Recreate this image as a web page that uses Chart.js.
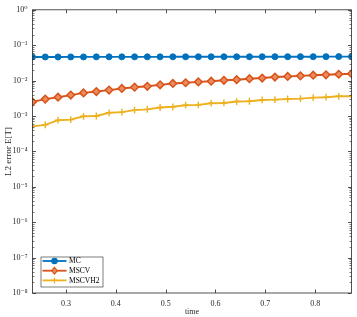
<!DOCTYPE html>
<html>
<head>
<meta charset="utf-8">
<script src="https://cdn.jsdelivr.net/npm/chart.js@4/dist/chart.umd.min.js"></script>
<style>
html,body{margin:0;padding:0;background:#fff;}
canvas{display:block;}
</style>
</head>
<body>
<canvas id="c" width="357" height="317"></canvas>
<script>
const timeValues = [0.2327, 0.2583, 0.2839, 0.3095, 0.3351, 0.3608, 0.3864, 0.4120, 0.4376, 0.4632, 0.4888, 0.5144, 0.5400, 0.5656, 0.5913, 0.6169, 0.6425, 0.6681, 0.6937, 0.7193, 0.7449, 0.7705, 0.7961, 0.8218, 0.8474, 0.8730];
const mcError = [0.0465, 0.0466, 0.0466, 0.0467, 0.0467, 0.0468, 0.0468, 0.0468, 0.0469, 0.0469, 0.0469, 0.0470, 0.0470, 0.0470, 0.0471, 0.0471, 0.0471, 0.0472, 0.0472, 0.0473, 0.0473, 0.0474, 0.0474, 0.0475, 0.0476, 0.0477];
const mscvError = [0.0025, 0.0030, 0.0034, 0.0039, 0.0045, 0.0049, 0.0054, 0.0060, 0.0065, 0.0069, 0.0076, 0.0083, 0.0087, 0.0092, 0.0096, 0.0102, 0.0106, 0.0113, 0.0118, 0.0126, 0.0131, 0.0136, 0.0142, 0.0146, 0.0151, 0.0156];
const mscvh2Error = [0.00051, 0.00056, 0.00076, 0.00079, 0.00098, 0.00100, 0.00123, 0.00129, 0.00147, 0.00154, 0.00174, 0.00182, 0.00202, 0.00206, 0.00230, 0.00234, 0.00256, 0.00261, 0.00284, 0.00290, 0.00302, 0.00310, 0.00330, 0.00340, 0.00360, 0.00360];
const seriesNames = ['MC', 'MSCV', 'MSCVH2'];
const xTickValues = [0.3, 0.4, 0.5, 0.6, 0.7, 0.8];
const yTickValues = [1e-8, 1e-7, 1e-6, 1e-5, 1e-4, 1e-3, 1e-2, 1e-1, 1];
const yTickLabels = ['10⁻⁸', '10⁻⁷', '10⁻⁶', '10⁻⁵', '10⁻⁴', '10⁻³', '10⁻²', '10⁻¹', '10⁰'];
const xTitle = 'time';
const yTitle = 'L2 error E[T]';

const FONT = '"Liberation Serif", "DejaVu Serif", serif';
const AXIS = '#262626';
const colors = ['#0072BD', '#D95319', '#EDB120'];

function pts(ys) { return timeValues.map((t, i) => ({x: t, y: ys[i]})); }

const boxPlugin = {
  id: 'boxPlugin',
  afterDatasetsDraw(chart) {
    const ctx = chart.ctx, a = chart.chartArea;
    const xs = chart.scales.x, ys = chart.scales.y;
    ctx.save();
    ctx.strokeStyle = AXIS;
    ctx.lineWidth = 0.8;
    ctx.strokeRect(a.left, a.top, a.right - a.left, a.bottom - a.top);
    ctx.beginPath();
    xTickValues.forEach(v => {
      const p = Math.round(xs.getPixelForValue(v)) + 0.5;
      ctx.moveTo(p, a.bottom); ctx.lineTo(p, a.bottom - 3.5);
      ctx.moveTo(p, a.top); ctx.lineTo(p, a.top + 3.5);
    });
    yTickValues.forEach(v => {
      const p = Math.round(ys.getPixelForValue(v)) + 0.5;
      ctx.moveTo(a.left, p); ctx.lineTo(a.left + 3.5, p);
      ctx.moveTo(a.right, p); ctx.lineTo(a.right - 3.5, p);
    });
    ctx.stroke();
    ctx.beginPath();
    ctx.lineWidth = 0.6;
    for (let i = 0; i < yTickValues.length - 1; i++) {
      for (let m = 2; m <= 9; m++) {
        const p = Math.round(ys.getPixelForValue(yTickValues[i] * m)) + 0.5;
        ctx.moveTo(a.left, p); ctx.lineTo(a.left + 2, p);
        ctx.moveTo(a.right, p); ctx.lineTo(a.right - 2, p);
      }
    }
    ctx.stroke();

    // legend
    const bx = a.left + 8, by = a.bottom - 36.5, bw = 62, bh = 30;
    ctx.fillStyle = '#fff';
    ctx.fillRect(bx, by, bw, bh);
    ctx.lineWidth = 0.6;
    ctx.strokeStyle = AXIS;
    ctx.strokeRect(bx + 0.5, by + 0.5, bw, bh);
    chart.data.datasets.forEach((ds, i) => {
      const y = by + 4.5 + i * 9.7;
      ctx.strokeStyle = ds.borderColor;
      ctx.lineWidth = 1.8;
      ctx.beginPath(); ctx.moveTo(bx + 2, y); ctx.lineTo(bx + 26, y); ctx.stroke();
      const cx = bx + 14;
      ctx.fillStyle = ds.pointBackgroundColor;
      ctx.strokeStyle = ds.borderColor;
      ctx.lineWidth = 1.2;
      if (i === 0) { ctx.beginPath(); ctx.arc(cx, y, 2.7, 0, Math.PI * 2); ctx.fill(); ctx.stroke(); }
      else if (i === 1) { ctx.beginPath(); ctx.moveTo(cx, y - 3.4); ctx.lineTo(cx + 2.8, y); ctx.lineTo(cx, y + 3.4); ctx.lineTo(cx - 2.8, y); ctx.closePath(); ctx.fill(); ctx.stroke(); }
      else { ctx.beginPath(); ctx.moveTo(cx - 3, y); ctx.lineTo(cx + 3, y); ctx.moveTo(cx, y - 3); ctx.lineTo(cx, y + 3); ctx.stroke(); }
      ctx.fillStyle = '#000';
      ctx.font = '7.5px ' + FONT;
      ctx.textBaseline = 'middle';
      ctx.textAlign = 'left';
      ctx.fillText(ds.label, bx + 28.5, y + 0.5);
    });
    ctx.restore();
  }
};

new Chart(document.getElementById('c'), {
  type: 'line',
  data: {
    datasets: [
      {label: seriesNames[0], data: pts(mcError), borderColor: colors[0], pointBackgroundColor: colors[0], pointBorderColor: colors[0], pointStyle: 'circle', pointRadius: 3, borderWidth: 1.9, pointBorderWidth: 1},
      {label: seriesNames[1], data: pts(mscvError), borderColor: colors[1], pointBackgroundColor: 'rgba(235,140,95,1)', pointBorderColor: colors[1], pointStyle: 'rectRot', pointRadius: 3.8, borderWidth: 1.9, pointBorderWidth: 1.5},
      {label: seriesNames[2], data: pts(mscvh2Error), borderColor: colors[2], pointBackgroundColor: colors[2], pointBorderColor: colors[2], pointStyle: 'cross', pointRadius: 3.4, borderWidth: 1.9, pointBorderWidth: 1.4}
    ]
  },
  options: {
    responsive: false,
    animation: false,
    devicePixelRatio: 1,
    layout: {padding: {left: 0, right: 5, top: 5, bottom: 0}},
    plugins: {legend: {display: false}, tooltip: {enabled: false}},
    scales: {
      x: {
        type: 'linear',
        min: timeValues[0],
        max: timeValues[timeValues.length - 1],
        afterBuildTicks(s) { s.ticks = xTickValues.map(v => ({value: v})); },
        afterFit(s) { s.height = 24; },
        grid: {display: false, drawTicks: false},
        border: {display: false},
        ticks: {color: '#262626', font: {family: FONT, size: 8}, padding: 6, maxRotation: 0, autoSkip: false, callback: v => v.toFixed(1)},
        title: {display: true, text: xTitle, color: '#262626', font: {family: FONT, size: 8}, padding: {top: 0, bottom: 0}}
      },
      y: {
        type: 'logarithmic',
        min: 1e-8,
        max: 1,
        afterBuildTicks(s) { s.ticks = yTickValues.map(v => ({value: v})); },
        afterFit(s) { s.width = 32.5; },
        grid: {display: false, drawTicks: false},
        border: {display: false},
        ticks: {color: '#262626', font: {family: FONT, size: 8}, padding: 5, autoSkip: false,
          callback: (v) => { const i = yTickValues.findIndex(t => Math.abs(Math.log10(t) - Math.log10(v)) < 1e-6); return i >= 0 ? yTickLabels[i] : ''; }},
        title: {display: true, text: yTitle, color: '#262626', font: {family: FONT, size: 9}, padding: {top: 3, bottom: 0}}
      }
    }
  },
  plugins: [boxPlugin]
});
</script>
</body>
</html>
